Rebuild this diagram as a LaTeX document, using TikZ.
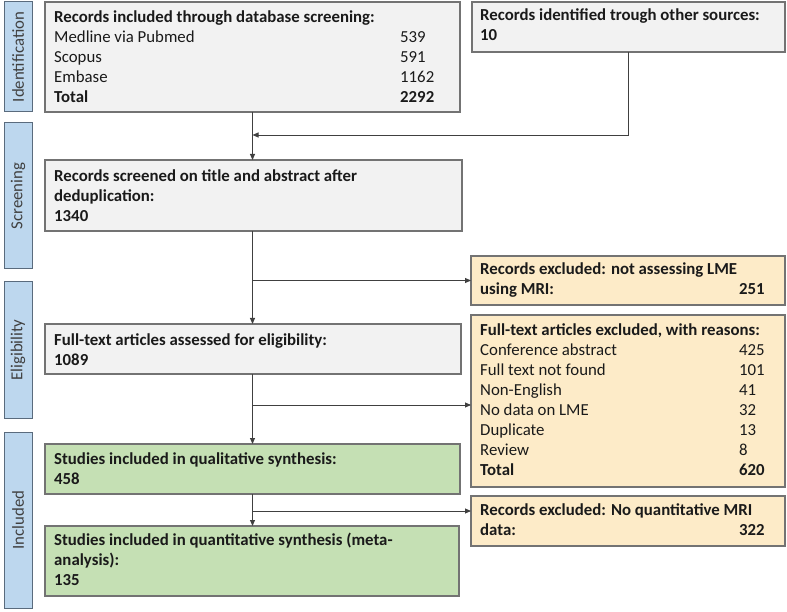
\documentclass[tikz,border=0pt]{standalone}
\usepackage{fontspec}
\setmainfont{Carlito}
\usetikzlibrary{arrows.meta}
\definecolor{gfill}{HTML}{F2F2F2}
\definecolor{gline}{HTML}{737373}
\definecolor{bfill}{HTML}{BDD7EE}
\definecolor{bline}{HTML}{5A6B7D}
\definecolor{yfill}{HTML}{FDEBC8}
\definecolor{grfill}{HTML}{C5E0B4}
\definecolor{arrc}{HTML}{404040}
\definecolor{txtc}{HTML}{1A1A1A}
\definecolor{sidec}{HTML}{404040}
\begin{document}
\begin{tikzpicture}[x=1pt,y=-1pt,
  box/.style={draw=gline,line width=1.1pt,rectangle,inner sep=0pt,outer sep=0pt,anchor=north west},
  graybox/.style={box,fill=gfill},
  yelbox/.style={box,fill=yfill},
  grnbox/.style={box,fill=grfill},
  sidebar/.style={draw=bline,line width=1pt,fill=bfill,rectangle,inner sep=0pt,outer sep=0pt,anchor=north west,minimum width=28pt},
  sidelabel/.style={rotate=90,inner sep=0pt,text=sidec,font=\fontsize{16.8}{20}\selectfont},
  txt/.style={inner sep=0pt,anchor=base west,text=txtc,font=\fontsize{16.8}{20}\selectfont},
  arr/.style={draw=arrc,line width=0.9pt,-{Triangle[length=6pt,width=5pt]}},
  ln/.style={draw=arrc,line width=0.9pt}]
\useasboundingbox (0,0) rectangle (787,612);

% side bars
\node[sidebar,minimum height=110pt] (s1) at (4,2) {};
\node[sidelabel] (l1) at (s1.center) {Identification};
\node[sidebar,minimum height=146pt] (s2) at (4,123) {};
\node[sidelabel] (l2) at (s2.center) {Screening};
\node[sidebar,minimum height=136pt] (s3) at (4,282) {};
\node[sidelabel] (l3) at (s3.center) {Eligibility};
\node[sidebar,minimum height=176pt] (s4) at (4,432) {};
\node[sidelabel] (l4) at (s4.center) {Included};

% boxes
\node[graybox,minimum width=415pt,minimum height=110pt] (b1) at (45,2) {};
\node[txt] (t1) at (54,23) {\begin{tabular}[t]{@{}p{346pt}@{}l@{}}
\textbf{Records included through database screening:} & \\
Medline via Pubmed & 539\\
Scopus & 591\\
Embase & 1162\\
\textbf{Total} & \textbf{2292}
\end{tabular}};

\node[graybox,minimum width=313pt,minimum height=50pt] (b2) at (472,2) {};
\node[txt] (t2) at (480,21) {\begin{tabular}[t]{@{}l@{}}
\textbf{Records identified trough other sources:}\\
\textbf{10}
\end{tabular}};

\node[graybox,minimum width=417pt,minimum height=71pt] (b3) at (45,160) {};
\node[txt] (t3) at (54,182) {\begin{tabular}[t]{@{}l@{}}
\textbf{Records screened on title and abstract after}\\
\textbf{deduplication:}\\
\textbf{1340}
\end{tabular}};

\node[graybox,minimum width=416pt,minimum height=50pt] (b4) at (45,324) {};
\node[txt] (t4) at (54,345) {\begin{tabular}[t]{@{}l@{}}
\textbf{Full-text articles assessed for eligibility:}\\
\textbf{1089}
\end{tabular}};

\node[grnbox,minimum width=415pt,minimum height=50pt] (b5) at (45,444) {};
\node[txt] (t5) at (54,464) {\begin{tabular}[t]{@{}l@{}}
\textbf{Studies included in qualitative synthesis:}\\
\textbf{458}
\end{tabular}};

\node[grnbox,minimum width=414pt,minimum height=70pt] (b6) at (45,526) {};
\node[txt] (t6) at (54,545) {\begin{tabular}[t]{@{}l@{}}
\textbf{Studies included in quantitative synthesis (meta-}\\
\textbf{analysis):}\\
\textbf{135}
\end{tabular}};

\node[yelbox,minimum width=314pt,minimum height=49pt] (e1) at (471,256) {};
\node[txt] (u1) at (480,275) {\begin{tabular}[t]{@{}p{259pt}@{}l@{}}
\multicolumn{2}{@{}l@{}}{\textbf{Records excluded: not assessing LME}}\\
\textbf{using MRI:} & \textbf{251}
\end{tabular}};

\node[yelbox,minimum width=314pt,minimum height=172pt] (e2) at (471,315) {};
\node[txt] (u2) at (480,335) {\begin{tabular}[t]{@{}p{259pt}@{}l@{}}
\multicolumn{2}{@{}l@{}}{\textbf{Full-text articles excluded, with reasons:}}\\
Conference abstract & 425\\
Full text not found & 101\\
Non-English & 41\\
No data on LME & 32\\
Duplicate & 13\\
Review & 8\\
\textbf{Total} & \textbf{620}
\end{tabular}};

\node[yelbox,minimum width=314pt,minimum height=50pt] (e3) at (471,496) {};
\node[txt] (u3) at (480,515) {\begin{tabular}[t]{@{}p{259pt}@{}l@{}}
\multicolumn{2}{@{}l@{}}{\textbf{Records excluded: No quantitative MRI}}\\
\textbf{data:} & \textbf{322}
\end{tabular}};

% connectors
\coordinate (j1) at (252.5,135);
\coordinate (j2) at (252.5,280.5);
\coordinate (j3) at (252.5,405);
\coordinate (j4) at (252.5,511);
\coordinate (k2) at (628,0);

\draw[arr] (b1.south) -- (b1.south |- b3.north);
\draw[arr] (b2.south -| k2) |- (j1);
\draw[arr] (b3.south -| b1.south) -- (b1.south |- b4.north);
\draw[arr] (j2) -- (j2 -| e1.west);
\draw[arr] (b4.south -| b1.south) -- (b1.south |- b5.north);
\draw[arr] (j3) -- (j3 -| e2.west);
\draw[arr] (b5.south -| b1.south) -- (b1.south |- b6.north);
\draw[arr] (j4) -- (j4 -| e3.west);
\end{tikzpicture}
\end{document}
